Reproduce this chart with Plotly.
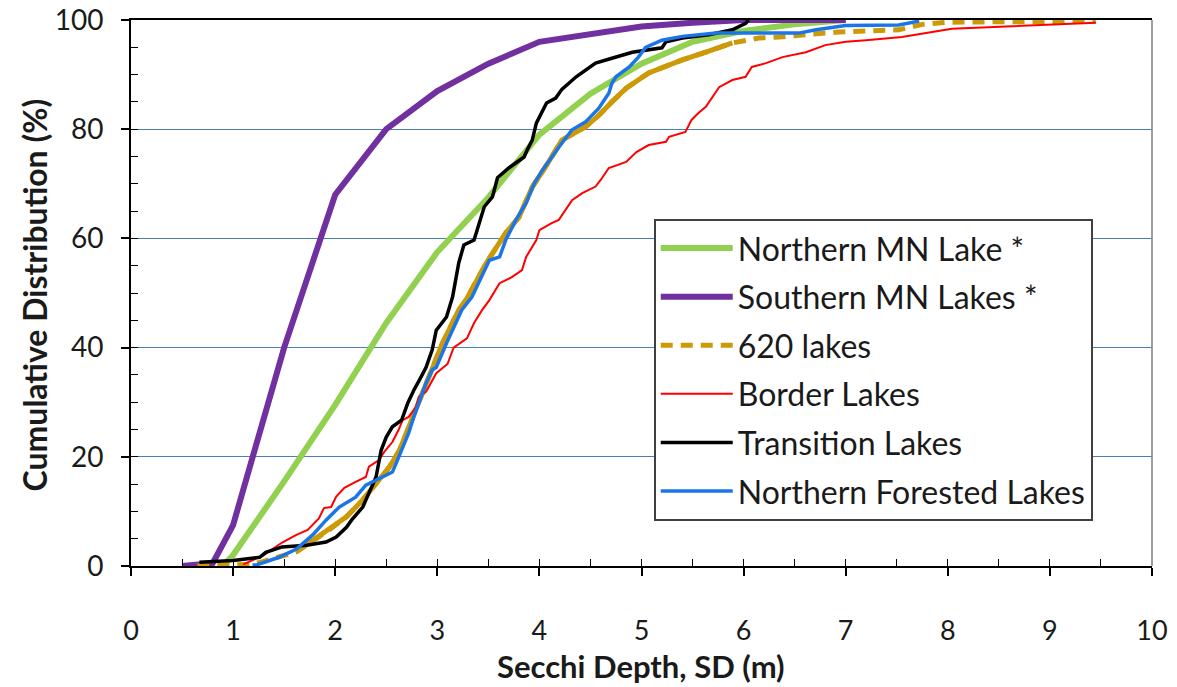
import plotly.graph_objects as go

# ---------------- data ----------------
south_x = [0.5, 0.8, 1.0, 1.5, 2.0, 2.5, 3.0, 3.5, 4.0, 4.5, 5.0, 5.5, 6.0, 7.0]
south_y = [0, 0.5, 7.5, 40, 68, 80, 87, 92, 96, 97.5, 98.8, 99.5, 100, 100]

north_x = [0.9, 1.0, 1.5, 2.0, 2.5, 3.0, 3.5, 4.0, 4.5, 5.0, 5.5, 6.0, 6.5, 7.0]
north_y = [0, 2, 15.5, 29.5, 44.5, 57.5, 67.5, 79, 86.5, 92, 96, 98, 99.2, 100]

lakes620_x = [0.65, 1.0, 1.19, 1.29, 1.62, 1.94, 2.11, 2.27, 2.40, 2.53, 2.63, 2.72, 2.82,
              2.92, 3.05, 3.21, 3.28, 3.48, 3.67, 3.80, 3.93, 4.07, 4.22, 4.45, 4.58, 4.71,
              4.85, 5.07, 5.40, 5.63, 5.89, 6.15, 6.35, 6.93, 7.52, 7.75, 8.0, 9.45]
lakes620_y = [0, 0.2, 0.3, 0.8, 2.6, 6.6, 9.0, 12.1, 15.2, 18.1, 21.2, 25.5, 30.4,
              34.6, 40.8, 46.9, 48.7, 55.5, 61.0, 63.9, 69.4, 73.4, 78.0, 80.4, 82.5, 85.0,
              87.5, 90.3, 92.7, 94.1, 95.8, 96.7, 96.9, 97.8, 98.2, 99.2, 99.6, 99.8]

border_x = [1.1, 1.3, 1.48, 1.53, 1.62, 1.73, 1.84, 1.89, 1.96, 2.01, 2.09, 2.20, 2.30, 2.33,
            2.38, 2.43, 2.48, 2.56, 2.62, 2.66, 2.72, 2.79, 2.82, 2.89, 2.99, 3.10, 3.16,
            3.29, 3.36, 3.44, 3.51, 3.61, 3.73, 3.83, 3.87, 3.97, 4.00, 4.12, 4.19, 4.32,
            4.42, 4.55, 4.60, 4.68, 4.85, 4.95, 5.07, 5.24, 5.27, 5.43, 5.49, 5.56, 5.63,
            5.76, 5.89, 6.02, 6.08, 6.22, 6.38, 6.61, 6.80, 7.0, 7.2, 7.55, 8.04, 8.57, 9.45]
border_y = [0.3, 2.0, 4.3, 4.8, 5.7, 6.6, 8.7, 10.6, 10.8, 12.7, 14.3, 15.4, 16.3, 18.2,
            18.8, 19.4, 20.9, 22.7, 24.9, 26.7, 27.3, 29.1, 31.0, 31.9, 35.3, 37.0, 40.0,
            41.7, 44.5, 46.9, 48.7, 51.8, 52.9, 54.2, 56.6, 59.7, 61.5, 62.8, 63.4, 67.0,
            68.3, 69.5, 70.7, 72.9, 74.0, 75.8, 77.1, 77.7, 78.6, 79.5, 81.7, 83.0, 84.1,
            87.7, 89.0, 89.6, 91.4, 92.1, 93.2, 94.1, 95.4, 96.0, 96.3, 96.9, 98.4, 98.8, 99.5]

trans_x = [0.67, 1.0, 1.26, 1.32, 1.48, 1.72, 1.91, 2.01, 2.11, 2.16, 2.27, 2.33, 2.40, 2.45,
           2.50, 2.56, 2.65, 2.71, 2.77, 2.84, 2.89, 2.95, 2.99, 3.09, 3.15, 3.21, 3.26, 3.36,
           3.41, 3.46, 3.54, 3.59, 3.70, 3.85, 3.88, 3.93, 3.97, 4.07, 4.16, 4.22, 4.36, 4.55,
           4.71, 4.91, 5.20, 5.24, 5.40, 5.66, 5.89, 6.02, 6.05]
trans_y = [0.7, 1.0, 1.6, 2.5, 3.5, 3.8, 4.4, 5.3, 7.1, 8.4, 10.8, 13.4, 16.3, 21.2,
           23.6, 25.5, 26.7, 29.8, 32.2, 34.6, 36.4, 39.6, 43.2, 45.6, 49.3, 55.5, 58.8, 59.7,
           62.8, 65.8, 67.6, 71.1, 72.9, 74.9, 76.2, 78.0, 81.1, 84.8, 85.7, 87.3, 89.6, 92.1,
           93.0, 94.1, 94.9, 96.0, 96.7, 97.3, 98.2, 99.4, 100]

forest_x = [1.19, 1.23, 1.45, 1.62, 1.78, 1.91, 2.04, 2.20, 2.30, 2.40, 2.50, 2.56, 2.61, 2.66,
            2.72, 2.77, 2.84, 2.89, 2.95, 2.99, 3.09, 3.24, 3.34, 3.51, 3.61, 3.67, 3.77, 3.87,
            3.95, 4.03, 4.19, 4.32, 4.45, 4.58, 4.68, 4.71, 4.75, 4.88, 4.97, 5.04, 5.20, 5.40,
            5.73, 6.54, 6.71, 7.0, 7.52, 7.72]
forest_y = [0.2, 0.2, 1.6, 3.1, 5.7, 8.4, 10.8, 12.6, 14.8, 15.7, 16.7, 17.2, 19.4, 21.8,
            24.4, 27.3, 31.0, 33.5, 35.9, 36.4, 40.8, 46.9, 49.3, 56.0, 56.6, 59.7, 63.4, 66.5,
            70.1, 72.5, 76.7, 79.9, 81.3, 83.8, 86.6, 88.4, 89.6, 91.4, 93.2, 95.0, 96.3, 97.0,
            97.6, 97.6, 98.2, 99.0, 99.1, 99.8]

x_ticks = list(range(0, 11))
y_ticks = [0, 20, 40, 60, 80, 100]

FONT = "Lato"
TXT = "#1a1a1a"

fig = go.Figure()

def add(name, x, y, color, width, dash="solid", group=None):
    fig.add_trace(go.Scatter(x=x, y=y, mode="lines", name=name,
                             line=dict(color=color, width=width, dash=dash),
                             legendgroup=group or name, hoverinfo="skip"))

add("Northern MN Lake *", north_x, north_y, "#92D050", 6)
add("Southern MN Lakes *", south_x, south_y, "#7030A0", 6)
add("620 lakes", lakes620_x, lakes620_y, "#CC9A06", 5, dash="12px,8px", group="g620")
# dense middle part of the dashed series renders solid in the original
mid = [(a, b) for a, b in zip(lakes620_x, lakes620_y) if 1.3 <= a <= 6.0]
fig.add_trace(go.Scatter(x=[p[0] for p in mid], y=[p[1] for p in mid], mode="lines",
                         line=dict(color="#CC9A06", width=5), showlegend=False,
                         legendgroup="g620", hoverinfo="skip"))
add("Border Lakes", border_x, border_y, "#FF0000", 2)
add("Transition Lakes", trans_x, trans_y, "#000000", 3.5)
add("Northern Forested Lakes", forest_x, forest_y, "#1A75E8", 3.5)

# dummy trace to carry the inside minor-tick axes
fig.add_trace(go.Scatter(x=[], y=[], xaxis="x2", yaxis="y2", showlegend=False,
                         hoverinfo="skip"))

fig.update_layout(
    width=1177, height=687, autosize=False,
    margin=dict(l=131, r=25, t=20, b=121),
    paper_bgcolor="white", plot_bgcolor="white",
    font=dict(family=FONT, color=TXT),
    showlegend=True,
    legend=dict(x=0.512, y=0.636, xanchor="left", yanchor="top",
                bgcolor="white", bordercolor="#404040", borderwidth=2,
                font=dict(family=FONT, size=32, color=TXT),
                itemwidth=72, tracegroupgap=4),
    xaxis=dict(range=[0, 10], tickvals=x_ticks, ticks="outside", ticklen=8,
               tickcolor="black", tickwidth=1.5, showline=True, linecolor="black",
               linewidth=2, mirror=True, showgrid=False, zeroline=False, automargin=False,
               tickfont=dict(family=FONT, size=27, color=TXT), ticklabelstandoff=32),
    yaxis=dict(range=[0, 100], tickvals=y_ticks, ticks="outside", ticklen=8,
               tickcolor="black", tickwidth=1.5, showline=True, linecolor="black",
               linewidth=2, showgrid=True, gridcolor="#4A7EBB", gridwidth=1,
               zeroline=False, automargin=False,
               tickfont=dict(family=FONT, size=28, color=TXT), ticklabelstandoff=12),
    xaxis2=dict(range=[0, 10], overlaying="x", anchor="y2", side="bottom",
                dtick=0.5, tick0=0, ticks="inside", ticklen=7, tickcolor="black",
                tickwidth=1.2, showticklabels=False, showgrid=False, zeroline=False,
                showline=False, automargin=False),
    yaxis2=dict(range=[0, 100], overlaying="y", anchor="x2", side="left",
                dtick=5, tick0=0, ticks="inside", ticklen=7, tickcolor="black",
                tickwidth=1.2, showticklabels=False, showgrid=False, zeroline=False,
                showline=False, automargin=False),
    shapes=[dict(type="line", xref="paper", yref="paper", x0=1, x1=1, y0=0, y1=1,
                 line=dict(color="#7f7f7f", width=1.5))],
    annotations=[
        dict(text="<b>Secchi Depth, SD (m)</b>", xref="paper", yref="paper",
             x=0.4993, y=-0.183, xanchor="center", yanchor="middle", showarrow=False,
             font=dict(family=FONT, size=31, color=TXT)),
        dict(text="<b>Cumulative Distribution (%)</b>", xref="paper", yref="paper",
             x=-0.0946, y=0.4963, xanchor="center", yanchor="middle", showarrow=False,
             textangle=-90, font=dict(family=FONT, size=32, color=TXT)),
    ],
)

fig.write_html("out.html")
